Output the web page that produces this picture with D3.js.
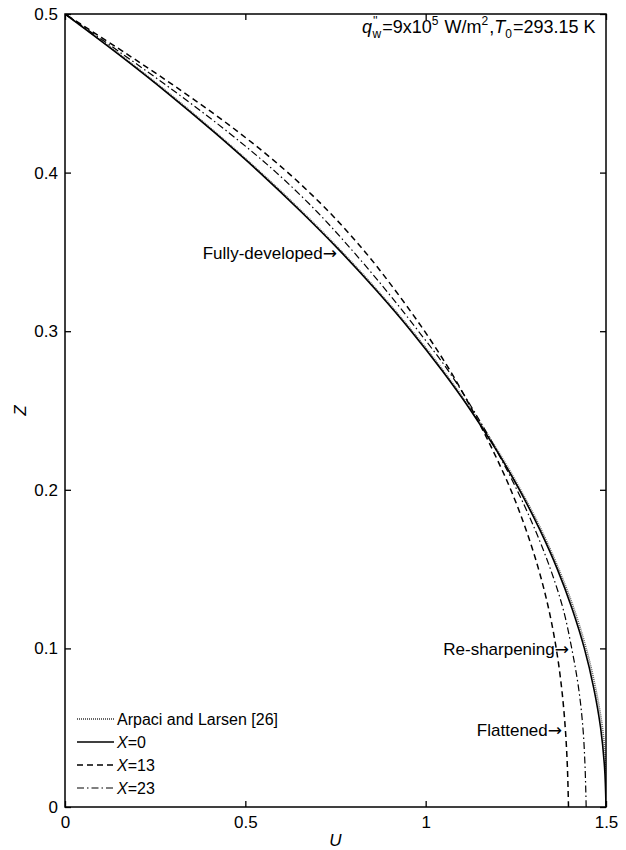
<!DOCTYPE html>
<html>
<head>
<meta charset="utf-8">
<script src="https://cdn.jsdelivr.net/npm/d3@7"></script>
<style>
  html, body { margin: 0; padding: 0; background: #fff; }
  svg { display: block; font-family: Arial, "Liberation Sans", sans-serif; }
</style>
</head>
<body>
<svg id="chart" width="626" height="850"></svg>
<script>
// Vertical positions Z at which the velocity profiles are sampled
const zValues = [0, 0.025, 0.05, 0.075, 0.1, 0.125, 0.15, 0.175, 0.2, 0.225, 0.25,
                 0.275, 0.3, 0.325, 0.35, 0.375, 0.4, 0.425, 0.45, 0.475, 0.5];

// Axial velocity U for each profile
const uArpaci = [1.503, 1.500, 1.490, 1.471, 1.445, 1.411, 1.369, 1.320, 1.263, 1.199, 1.128,
                 1.049, 0.963, 0.869, 0.768, 0.659, 0.543, 0.419, 0.288, 0.149, 0];
const uX0     = [1.500, 1.496, 1.485, 1.466, 1.440, 1.406, 1.365, 1.316, 1.260, 1.196, 1.125,
                 1.046, 0.960, 0.866, 0.765, 0.656, 0.540, 0.416, 0.285, 0.146, 0];
const uX13    = [1.396, 1.393, 1.387, 1.377, 1.362, 1.341, 1.313, 1.278, 1.236, 1.186, 1.130,
                 1.068, 0.997, 0.918, 0.832, 0.733, 0.618, 0.484, 0.333, 0.170, 0];
const uX23    = [1.445, 1.442, 1.436, 1.424, 1.405, 1.381, 1.346, 1.303, 1.253, 1.196, 1.133,
                 1.063, 0.980, 0.893, 0.800, 0.700, 0.586, 0.455, 0.311, 0.158, 0];

const xTicks = [0, 0.5, 1, 1.5];
const xTickLabels = ["0", "0.5", "1", "1.5"];
const yTicks = [0, 0.1, 0.2, 0.3, 0.4, 0.5];
const yTickLabels = ["0", "0.1", "0.2", "0.3", "0.4", "0.5"];

const seriesNames = ["Arpaci and Larsen [26]", "X=0", "X=13", "X=23"];

const svg = d3.select("#chart");
const mLeft = 65, mRight = 606, mTop = 14, mBottom = 807;
const fontSize = "17px";

const x = d3.scaleLinear().domain([0, 1.5]).range([mLeft, mRight]);
const y = d3.scaleLinear().domain([0, 0.5]).range([mBottom, mTop]);

const series = [
  { name: seriesNames[0], u: uArpaci, stroke: "#666", width: 1.8, dash: "1,1" },
  { name: seriesNames[1], u: uX0,     stroke: "#000", width: 1.6, dash: null },
  { name: seriesNames[2], u: uX13,    stroke: "#000", width: 1.5, dash: "6,4" },
  { name: seriesNames[3], u: uX23,    stroke: "#000", width: 1.2, dash: "7,3,1.5,3" }
];

const line = d3.line()
  .x(d => x(d[0]))
  .y(d => y(d[1]))
  .curve(d3.curveCatmullRom);

const plot = svg.append("g");
plot.append("clipPath").attr("id", "clip")
  .append("rect").attr("x", mLeft).attr("y", mTop)
  .attr("width", mRight - mLeft).attr("height", mBottom - mTop);

series.forEach(s => {
  const pts = zValues.map((z, i) => [s.u[i], z]);
  plot.append("path")
    .attr("d", line(pts))
    .attr("fill", "none")
    .attr("stroke", s.stroke)
    .attr("stroke-width", s.width)
    .attr("stroke-dasharray", s.dash)
    .attr("clip-path", "url(#clip)");
});

// Axes with inward ticks on all four sides
const tickLen = 6;
const axB = d3.axisBottom(x).tickValues(xTicks).tickSizeInner(-tickLen).tickSizeOuter(0)
  .tickPadding(9).tickFormat((d, i) => xTickLabels[i]);
const axT = d3.axisTop(x).tickValues(xTicks).tickSizeInner(-tickLen).tickSizeOuter(0)
  .tickFormat("");
const axL = d3.axisLeft(y).tickValues(yTicks).tickSizeInner(-tickLen).tickSizeOuter(0)
  .tickPadding(7).tickFormat((d, i) => yTickLabels[i]);
const axR = d3.axisRight(y).tickValues(yTicks).tickSizeInner(-tickLen).tickSizeOuter(0)
  .tickFormat("");

function styleAxis(g) {
  g.select(".domain").remove();
  g.selectAll(".tick line").attr("stroke", "#000").attr("stroke-width", 1.3);
  g.selectAll(".tick text").attr("fill", "#000").style("font-size", fontSize)
    .style("font-family", "Arial, 'Liberation Sans', sans-serif");
}
svg.append("g").attr("transform", `translate(0,${mBottom})`).call(axB).call(styleAxis);
svg.append("g").attr("transform", `translate(0,${mTop})`).call(axT).call(styleAxis);
svg.append("g").attr("transform", `translate(${mLeft},0)`).call(axL).call(styleAxis);
svg.append("g").attr("transform", `translate(${mRight},0)`).call(axR).call(styleAxis);

svg.append("rect")
  .attr("x", mLeft).attr("y", mTop)
  .attr("width", mRight - mLeft).attr("height", mBottom - mTop)
  .attr("fill", "none").attr("stroke", "#000").attr("stroke-width", 1.5);

// Axis titles
svg.append("text").attr("x", x(0.75)).attr("y", 846)
  .attr("text-anchor", "middle").style("font-size", fontSize).style("font-style", "italic")
  .text("U");
svg.append("text").attr("transform", `translate(26,${(mTop + mBottom) / 2}) rotate(-90)`)
  .attr("text-anchor", "middle").style("font-size", fontSize).style("font-style", "italic")
  .text("Z");

// Condition label
const sub = "12px";
const cond = svg.append("text").attr("x", 362).attr("y", 33).style("font-size", "18px");
cond.append("tspan").style("font-style", "italic").text("q");
cond.append("tspan").attr("dy", -8).attr("dx", 1).style("font-size", sub).text("''");
cond.append("tspan").attr("dy", 13).attr("dx", -5).style("font-size", sub).text("w");
cond.append("tspan").attr("dy", -5).attr("dx", 1).text("=9x10");
cond.append("tspan").attr("dy", -8).style("font-size", sub).text("5");
cond.append("tspan").attr("dy", 8).attr("dx", 1).text(" W/m");
cond.append("tspan").attr("dy", -8).style("font-size", sub).text("2");
cond.append("tspan").attr("dy", 8).attr("dx", 1).text(",");
cond.append("tspan").style("font-style", "italic").text("T");
cond.append("tspan").attr("dy", 5).style("font-size", sub).text("0");
cond.append("tspan").attr("dy", -5).attr("dx", 1).text("=293.15 K");

// Annotations
const notes = [
  { text: "Fully-developed", x: 337, y: 259 },
  { text: "Re-sharpening", x: 569, y: 655 },
  { text: "Flattened", x: 562, y: 736 }
];
notes.forEach(n => {
  const t = svg.append("text").attr("x", n.x).attr("y", n.y).attr("text-anchor", "end")
    .style("font-size", fontSize);
  t.append("tspan").text(n.text);
  t.append("tspan").style("font-family", "'DejaVu Sans'").style("font-size", "17px")
    .text("\u2192");
});

// Legend
const legY0 = 719, legStep = 23;
series.forEach((s, i) => {
  const yy = legY0 + i * legStep;
  svg.append("line").attr("x1", 77).attr("x2", 114).attr("y1", yy).attr("y2", yy)
    .attr("stroke", s.stroke).attr("stroke-width", s.width)
    .attr("stroke-dasharray", s.dash);
  const t = svg.append("text").attr("x", 117).attr("y", yy + 6).style("font-size", "16px");
  if (i === 0) {
    t.text(s.name);
  } else {
    t.append("tspan").style("font-style", "italic").text("X");
    t.append("tspan").text(s.name.slice(1));
  }
});
</script>
</body>
</html>
